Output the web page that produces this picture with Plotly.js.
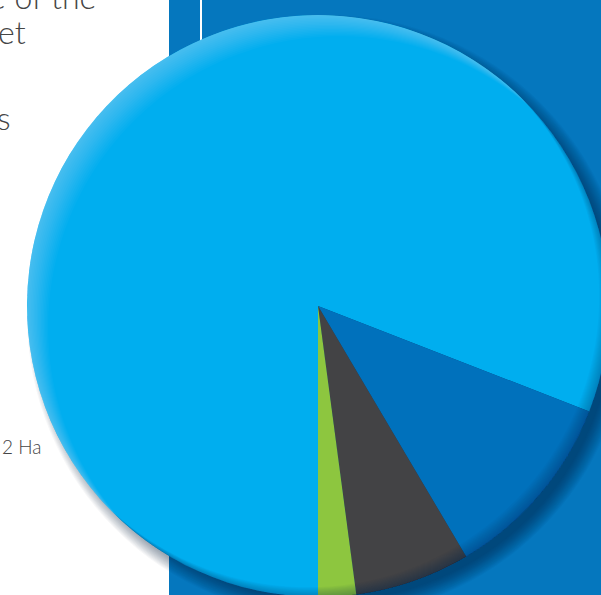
<!DOCTYPE html>
<html>
<head>
<meta charset="utf-8">
<script src="https://cdn.plot.ly/plotly-3.0.1.min.js"></script>
<style>
html,body{margin:0;padding:0;overflow:hidden;background:#fff;width:601px;height:595px;}
#chart{position:absolute;left:0;top:0;}
</style>
</head>
<body>
<div id="chart"></div>
<script>
// ---- data ----
const sliceLabels = ["Segment A", "Segment B", "Segment C", "Segment D"];
const sliceValues = [80.9, 10.6, 6.4, 2.1];
const sliceColors = ["#00AEEF", "#0071BC", "#434345", "#8DC63F"];
const sideTexts = ["e of the", "et", "s", "2 Ha"];

// ---- geometry (decoration only) ----
const W = 640, H = 620;
const CX = 318, CY = 306, R = 291;
function px(x){ return x / W; }
function py(y){ return 1 - y / H; }

function circlePts(cx, cy, r, a0, a1, n){
  const pts = [];
  for(let i=0;i<=n;i++){
    const a = a0 + (a1-a0)*i/n;
    pts.push([cx + r*Math.cos(a), cy + r*Math.sin(a)]);
  }
  return pts;
}
// crescent = circle(c,r) minus circle(c+v,r)
function crescent(cx, cy, r, ang, d){
  const vx = d*Math.cos(ang), vy = d*Math.sin(ang);
  const back = ang + Math.PI;
  const phi0 = Math.acos(-d/(2*r));
  const phi1 = Math.acos(d/(2*r));
  const A = circlePts(cx, cy, r, back - phi0, back + phi0, 140);
  const B = circlePts(cx+vx, cy+vy, r, back + phi1, back - phi1, 140);
  const all = A.concat(B);
  return "M" + all.map(p => px(p[0]).toFixed(5)+","+py(p[1]).toFixed(5)).join("L") + "Z";
}

const shapes = [];
// blue panel
shapes.push({type:"rect", xref:"paper", yref:"paper", x0:px(169), x1:px(W), y0:py(H), y1:py(0),
  fillcolor:"#0577BE", line:{width:0}, layer:"below"});
// thin white line
shapes.push({type:"rect", xref:"paper", yref:"paper", x0:px(200), x1:px(202), y0:py(45), y1:py(0),
  fillcolor:"#ffffff", line:{width:0}, layer:"below"});
// drop shadow (bottom-right)
for(let k=0;k<=16;k++){
  const r = R + 10 - k;
  const sx = CX + 10, sy = CY + 10;
  shapes.push({type:"circle", xref:"paper", yref:"paper",
    x0:px(sx-r), x1:px(sx+r), y0:py(sy+r), y1:py(sy-r),
    fillcolor:"rgba(0,30,70,0.035)", line:{width:0}, layer:"below"});
}
// top-left highlight
for(let d=2; d<=30; d+=2){
  shapes.push({type:"path", xref:"paper", yref:"paper", path:crescent(CX, CY, R, Math.PI/4, d),
    fillcolor:"rgba(255,255,255,0.025)", line:{width:0}, layer:"above"});
}
// bottom-right rim darkening
for(let d=1; d<=14; d+=1){
  shapes.push({type:"path", xref:"paper", yref:"paper", path:crescent(CX, CY, R, -3*Math.PI/4, d),
    fillcolor:"rgba(0,30,70,0.022)", line:{width:0}, layer:"above"});
}

const textFont = {family:"Lato, 'Open Sans', sans-serif", color:"#454545", weight:300};
const annotations = [
  {text:sideTexts[0], x:px(98), y:py(-4), size:32},
  {text:sideTexts[1], x:px(28), y:py(31), size:32},
  {text:sideTexts[2], x:px(13), y:py(117), size:32},
  {text:sideTexts[3], x:px(43), y:py(446), size:19}
].map(a => ({text:a.text, x:a.x, y:a.y, xref:"paper", yref:"paper", xanchor:"right", yanchor:"middle",
  showarrow:false, font:Object.assign({}, textFont, {size:a.size})}));

const trace = {
  type:"pie",
  labels:sliceLabels,
  values:sliceValues,
  marker:{colors:sliceColors, line:{width:0}},
  sort:false,
  direction:"clockwise",
  rotation:180,
  textinfo:"none",
  hoverinfo:"label+percent",
  showlegend:false,
  domain:{x:[px(CX-R), px(CX+R)], y:[py(CY+R), py(CY-R)]}
};

const layout = {
  width:W, height:H,
  margin:{l:0,r:0,t:0,b:0,pad:0},
  paper_bgcolor:"#ffffff",
  showlegend:false,
  shapes:shapes,
  annotations:annotations
};

Plotly.newPlot("chart", [trace], layout, {displayModeBar:false, staticPlot:true});
</script>
</body>
</html>
